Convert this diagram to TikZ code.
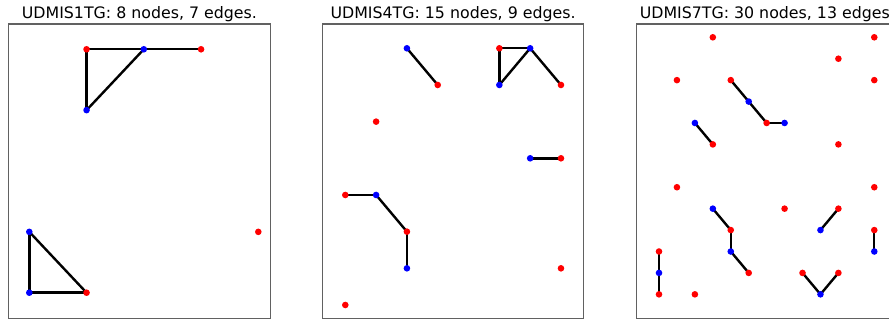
\documentclass[tikz,border=0pt]{standalone}
\usepackage{fontspec}
\setmainfont{DejaVu Sans}
\usepackage{tikz}
\pgfdeclarelayer{background}
\pgfdeclarelayer{foreground}
\pgfsetlayers{background,main,foreground}

\begin{document}
\begin{tikzpicture}[x=1pt,y=-1pt,
  rn/.style={circle,minimum size=6.6pt,inner sep=0pt,fill=red},
  bn/.style={circle,minimum size=6.6pt,inner sep=0pt,fill=blue},
  edge/.style={line width=2.4pt},
  panel/.style={draw=black!62,line width=1.1pt},
  title/.style={anchor=base,inner sep=0pt,font=\fontsize{15.8}{18}\selectfont}]
  \useasboundingbox (0,0) rectangle (889,320);
  \clip (0,0) rectangle (889,320);

  % frames and titles
  \draw[panel] (8.5,24) rectangle (270.5,318.3);
  \draw[panel] (322.7,24) rectangle (583.5,318.3);
  \draw[panel] (636.7,24) rectangle (897.9,318.3);
  \node[title] (t1) at (139.4,19) {UDMIS1TG: 8 nodes, 7 edges.};
  \node[title] (t2) at (453.1,19) {UDMIS4TG: 15 nodes, 9 edges.};
  \node[title] (t3) at (767.3,19) {UDMIS7TG: 30 nodes, 13 edges.};

  % first graph
  \begin{scope}[shift={(29.3,49.3)},x=57.25pt,y=-60.85pt]
    \draw(1,0) node[rn] (a1) {};
    \draw(2,0) node[bn] (a2) {};
    \draw(3,0) node[rn] (a3) {};
    \draw(1,1) node[bn] (a4) {};
    \draw(0,3) node[bn] (a5) {};
    \draw(4,3) node[rn] (a6) {};
    \draw(0,4) node[bn] (a7) {};
    \draw(1,4) node[rn] (a8) {};
  \end{scope}
  \begin{pgfonlayer}{background}
    \draw[edge] (a1.center) -- (a2.center);
    \draw[edge] (a2.center) -- (a3.center);
    \draw[edge] (a1.center) -- (a4.center);
    \draw[edge] (a2.center) -- (a4.center);
    \draw[edge] (a5.center) -- (a7.center);
    \draw[edge] (a5.center) -- (a8.center);
    \draw[edge] (a7.center) -- (a8.center);
  \end{pgfonlayer}

  % second graph
  \begin{scope}[shift={(345.3,48.3)},x=30.81pt,y=-36.67pt]
    \draw(2,0) node[bn] (b1) {};
    \draw(3,1) node[rn] (b2) {};
    \draw(5,0) node[rn] (b3) {};
    \draw(6,0) node[bn] (b4) {};
    \draw(5,1) node[bn] (b5) {};
    \draw(7,1) node[rn] (b6) {};
    \draw(1,2) node[rn] (b7) {};
    \draw(6,3) node[bn] (b8) {};
    \draw(7,3) node[rn] (b9) {};
    \draw(0,4) node[rn] (b10) {};
    \draw(1,4) node[bn] (b11) {};
    \draw(2,5) node[rn] (b12) {};
    \draw(2,6) node[bn] (b13) {};
    \draw(7,6) node[rn] (b14) {};
    \draw(0,7) node[rn] (b15) {};
  \end{scope}
  \begin{pgfonlayer}{background}
    \draw[edge] (b1.center) -- (b2.center);
    \draw[edge] (b3.center) -- (b4.center);
    \draw[edge] (b3.center) -- (b5.center);
    \draw[edge] (b4.center) -- (b5.center);
    \draw[edge] (b4.center) -- (b6.center);
    \draw[edge] (b8.center) -- (b9.center);
    \draw[edge] (b10.center) -- (b11.center);
    \draw[edge] (b11.center) -- (b12.center);
    \draw[edge] (b12.center) -- (b13.center);
  \end{pgfonlayer}

  % third graph
  \begin{scope}[shift={(659,37.3)},x=17.94pt,y=-21.42pt]
    \draw(3,0) node[rn] (c1) {};
    \draw(12,0) node[rn] (c2) {};
    \draw(10,1) node[rn] (c3) {};
    \draw(1,2) node[rn] (c4) {};
    \draw(4,2) node[rn] (c5) {};
    \draw(12,2) node[rn] (c6) {};
    \draw(5,3) node[bn] (c7) {};
    \draw(2,4) node[bn] (c8) {};
    \draw(6,4) node[rn] (c9) {};
    \draw(7,4) node[bn] (c10) {};
    \draw(3,5) node[rn] (c11) {};
    \draw(10,5) node[rn] (c12) {};
    \draw(1,7) node[rn] (c13) {};
    \draw(12,7) node[rn] (c14) {};
    \draw(3,8) node[bn] (c15) {};
    \draw(7,8) node[rn] (c16) {};
    \draw(10,8) node[rn] (c17) {};
    \draw(4,9) node[rn] (c18) {};
    \draw(9,9) node[bn] (c19) {};
    \draw(12,9) node[rn] (c20) {};
    \draw(0,10) node[rn] (c21) {};
    \draw(4,10) node[bn] (c22) {};
    \draw(12,10) node[bn] (c23) {};
    \draw(0,11) node[bn] (c24) {};
    \draw(5,11) node[rn] (c25) {};
    \draw(8,11) node[rn] (c26) {};
    \draw(10,11) node[rn] (c27) {};
    \draw(0,12) node[rn] (c28) {};
    \draw(2,12) node[rn] (c29) {};
    \draw(9,12) node[bn] (c30) {};
  \end{scope}
  \begin{pgfonlayer}{background}
    \draw[edge] (c5.center) -- (c7.center);
    \draw[edge] (c7.center) -- (c9.center);
    \draw[edge] (c9.center) -- (c10.center);
    \draw[edge] (c8.center) -- (c11.center);
    \draw[edge] (c15.center) -- (c18.center);
    \draw[edge] (c18.center) -- (c22.center);
    \draw[edge] (c22.center) -- (c25.center);
    \draw[edge] (c19.center) -- (c17.center);
    \draw[edge] (c20.center) -- (c23.center);
    \draw[edge] (c21.center) -- (c24.center);
    \draw[edge] (c24.center) -- (c28.center);
    \draw[edge] (c26.center) -- (c30.center);
    \draw[edge] (c30.center) -- (c27.center);
  \end{pgfonlayer}
\end{tikzpicture}
\end{document}
